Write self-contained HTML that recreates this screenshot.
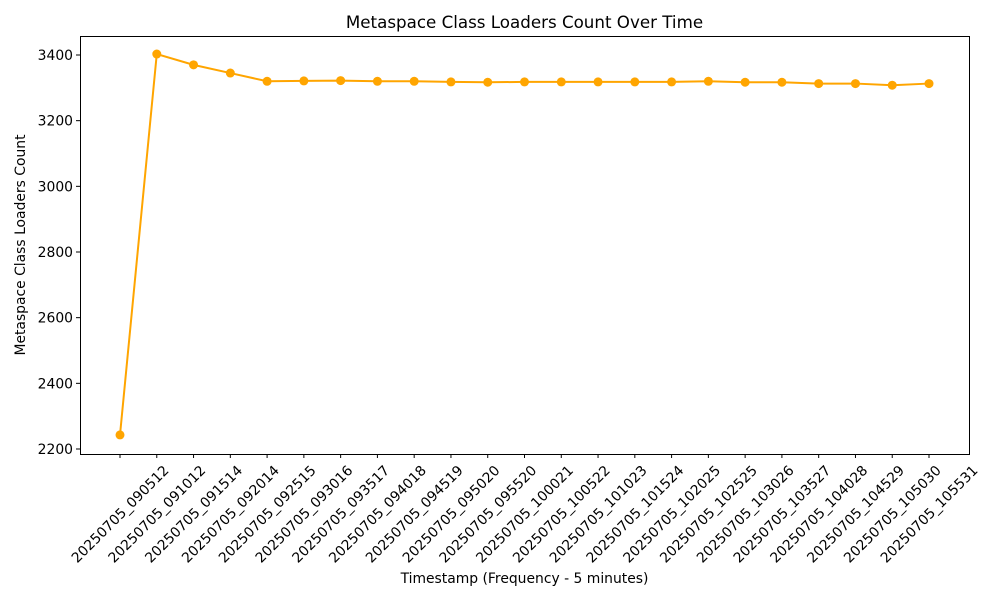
<!DOCTYPE html>
<html><head><meta charset="utf-8"><style>body{margin:0;background:#fff}svg{display:block;font-family:"DejaVu Sans","Liberation Sans",sans-serif}</style></head>
<body>
<svg width="1000" height="600" viewBox="0 0 1000 600" xmlns="http://www.w3.org/2000/svg">
<rect width="1000" height="600" fill="#fff"/>
<text x="524.5" y="28" font-size="16.7" text-anchor="middle">Metaspace Class Loaders Count Over Time</text>
<g id="yt" font-size="13.9" text-anchor="end"></g>
<g id="xt" font-size="13.9"></g>
<polyline id="ln" fill="none" stroke="#FFA500" stroke-width="2"/>
<g id="pts" fill="#FFA500"></g>
<rect x="80.5" y="36.5" width="889" height="418" fill="none" stroke="#000" stroke-width="1"/>
<text x="524.5" y="583" font-size="13.9" text-anchor="middle">Timestamp (Frequency - 5 minutes)</text>
<text transform="translate(25,245) rotate(-90)" font-size="13.9" text-anchor="middle">Metaspace Class Loaders Count</text>
</svg>
<script>
var ns="http://www.w3.org/2000/svg";
function el(t,a,p,txt){var e=document.createElementNS(ns,t);for(var k in a)e.setAttribute(k,a[k]);if(txt)e.textContent=txt;p.appendChild(e);return e;}
function Y(v){return 449-(v-2200)*65.667/200;}
var yt=document.getElementById('yt');
for(var v=2200;v<=3400;v+=200){var y=Y(v);el('line',{x1:76,x2:80,y1:y,y2:y,stroke:'#000'},yt);el('text',{x:73,y:y+5},yt,String(v));}
var labs=["090512","091012","091514","092014","092515","093016","093517","094018","094519","095020","095520","100021","100522","101023","101524","102025","102525","103026","103527","104028","104529","105030","105531"];
var vals=[2243,3403,3370,3345,3320,3321,3322,3320,3320,3318,3317,3318,3318,3318,3318,3318,3320,3317,3317,3313,3313,3308,3313];
var xt=document.getElementById('xt'),pts=document.getElementById('pts'),pp=[];
for(var i=0;i<23;i++){var x=120+i*809/22;
el('line',{x1:x,x2:x,y1:454,y2:458,stroke:'#000'},xt);
el('text',{transform:'translate('+x+',514) rotate(-45)','text-anchor':'middle',dy:'0.35em'},xt,'20250705_'+labs[i]);
pp.push(x+','+Y(vals[i]));el('circle',{cx:x,cy:Y(vals[i]),r:4.5},pts);}
document.getElementById('ln').setAttribute('points',pp.join(' '));
</script>
</body></html>
